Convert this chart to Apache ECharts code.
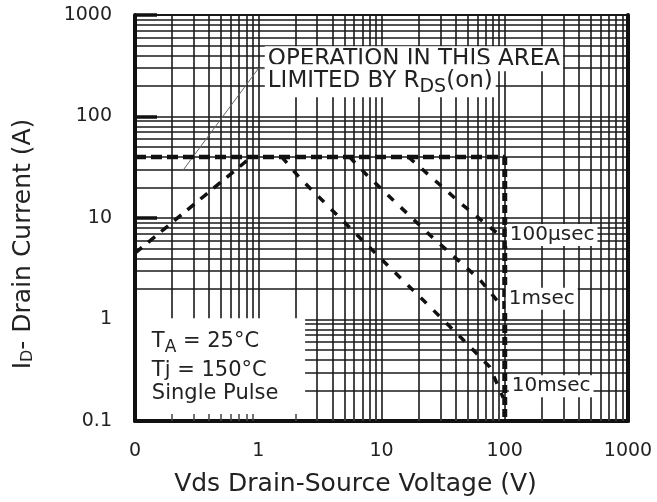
<!DOCTYPE html>
<html>
<head>
<meta charset="utf-8">
<script src="https://cdn.jsdelivr.net/npm/echarts@6/dist/echarts.min.js"></script>
<style>
html, body { margin: 0; padding: 0; background: #fff; }
#main { width: 657px; height: 502px; }
</style>
</head>
<body>
<div id="main"></div>
<script>
// tick labels
var xTickValues = [0.1, 1, 10, 100, 1000];
var xTickLabels = ['0', '1', '10', '100', '1000'];
var yTickValues = [0.1, 1, 10, 100, 1000];
var yTickLabels = ['0.1', '1', '10', '100', '1000'];

// limit lines (Vds, Id)
var rdsV = [0.1, 0.88];
var rdsI = [4.5, 40];
var limitV = [0.1, 100];
var limitI = [40, 40];
var vmaxV = [100, 100];
var vmaxI = [40, 0.1];

// pulse curves
var us100V = [16.5, 45.7, 98];
var us100I = [40, 13.4, 6.3];
var ms1V = [5.5, 7.6, 24.7, 62.8, 97];
var ms1I = [40, 26.5, 6.8, 2.47, 1.3];
var ms10V = [1.55, 2.18, 11.1, 26.1, 44.9, 75.7, 97];
var ms10I = [40, 24.7, 3.46, 1.25, 0.65, 0.34, 0.17];

// leader line of the Rds(on) note
var leaderV = [0.245, 1.0, 1.13];
var leaderI = [29.5, 296, 296];

// log grid: 1..9 in each decade
var decades = [0.1, 1, 10, 100];
var gridVals = [];
for (var d = 0; d < decades.length; d++) {
	for (var k = 1; k < 10; k++) {
		gridVals.push(+(decades[d] * k).toPrecision(3));
	}
}
gridVals.push(1000);
var minorVals = gridVals.filter(function (v) { return xTickValues.indexOf(v) < 0; });

function zip(a, b) {
	var out = [];
	for (var i = 0; i < a.length; i++) out.push([a[i], b[i]]);
	return out;
}
function tickText(vals, labels, value) {
	for (var i = 0; i < vals.length; i++) {
		if (Math.abs(Math.log10(vals[i]) - Math.log10(value)) < 0.01) return labels[i];
	}
	return '';
}

var FONT = 'DejaVu Sans';
var gridLines = [];
gridVals.forEach(function (v) { gridLines.push({ xAxis: v }); });
gridVals.forEach(function (v) { gridLines.push({ yAxis: v }); });

function note(v, i, text, size, bg) {
	return {
		coord: [v, i],
		symbolSize: 0,
		label: {
			show: true,
			position: 'right',
			distance: 0,
			formatter: text,
			color: '#222',
			fontFamily: FONT,
			fontSize: size,
			backgroundColor: bg ? '#fff' : 'transparent',
			padding: bg ? [1, 3, 1, 3] : 0,
			rich: {
				n: { fontFamily: FONT, fontSize: size, color: '#222' },
				s: { fontFamily: FONT, fontSize: size - 4, color: '#222', padding: [12, 0, 0, 0] }
			}
		}
	};
}

var dashed = function (w, pat) {
	return { color: '#111', width: w, type: pat };
};

var myChart = echarts.init(document.getElementById('main'));
var option = {
	animation: false,
	backgroundColor: '#fff',
	grid: {
		left: 135, right: 29, top: 15, bottom: 79,
		show: true, borderColor: '#111', borderWidth: 2
	},
	xAxis: {
		type: 'log', logBase: 10, min: 0.1, max: 1000, z: 10,
		name: 'Vds Drain-Source Voltage (V)',
		nameLocation: 'middle', nameGap: 51,
		nameTextStyle: { fontFamily: FONT, fontSize: 25, color: '#222', padding: [0, 52, 0, 0] },
		axisLine: { lineStyle: { color: '#111', width: 4 } },
		axisTick: { show: true, inside: true, length: 7, customValues: minorVals, lineStyle: { color: '#444', width: 1.5 } },
		axisLabel: {
			margin: 21, fontFamily: FONT, fontSize: 19, color: '#222',
			formatter: function (v) { return tickText(xTickValues, xTickLabels, v); }
		},
		splitLine: { show: false }
	},
	yAxis: [{
		type: 'log', logBase: 10, min: 0.1, max: 1000, z: 10,
		name: '{m|I}{s|D}{m|- Drain Current (A)}',
		nameLocation: 'middle', nameGap: 99, nameRotate: 90,
		nameTextStyle: {
			fontFamily: FONT, fontSize: 25, color: '#222', padding: [0, 52, 0, 0],
			rich: {
				m: { fontFamily: FONT, fontSize: 25, color: '#222' },
				s: { fontFamily: FONT, fontSize: 16, color: '#222', padding: [10, 0, 0, 0] }
			}
		},
		axisLine: { lineStyle: { color: '#111', width: 4 } },
		axisTick: { show: true, inside: true, length: 22, customValues: [10, 100, 1000], lineStyle: { color: '#111', width: 3.5 } },
		axisLabel: {
			margin: 23, fontFamily: FONT, fontSize: 19, color: '#222',
			formatter: function (v) { return tickText(yTickValues, yTickLabels, v); }
		},
		splitLine: { show: false }
	}, {
		type: 'value', position: 'right', z: 10,
		axisLine: { show: true, lineStyle: { color: '#111', width: 4 } },
		axisTick: { show: false }, axisLabel: { show: false }, splitLine: { show: false }
	}],
	series: [
		{
			// grid lines
			type: 'line', data: [], z: 1, silent: true,
			markLine: {
				z: 1, silent: true, symbol: ['none', 'none'], animation: false,
				label: { show: false },
				lineStyle: { type: 'solid', color: '#1a1a1a', width: 1.6 },
				emphasis: { disabled: true },
				data: gridLines
			}
		},
		{
			// white box behind the conditions text
			type: 'line', data: [], z: 2, silent: true,
			markArea: {
				z: 2, silent: true,
				itemStyle: { color: '#fff', opacity: 1 },
				emphasis: { disabled: true },
				data: [[{ xAxis: 0.1, yAxis: 0.1 }, { xAxis: 2.4, yAxis: 1.03 }]]
			}
		},
		{ type: 'line', z: 3, silent: true, showSymbol: false, data: zip(leaderV, leaderI), lineStyle: { color: '#666', width: 1 } },
		{ type: 'line', z: 3, silent: true, showSymbol: false, data: zip(rdsV, rdsI), lineStyle: dashed(3.5, [9, 8]) },
		{ type: 'line', z: 3, silent: true, showSymbol: false, data: zip(limitV, limitI), lineStyle: dashed(4.5, [11, 5]) },
		{ type: 'line', z: 3, silent: true, showSymbol: false, data: zip(vmaxV, vmaxI), lineStyle: dashed(5, [8, 4]) },
		{ type: 'line', z: 3, silent: true, showSymbol: false, data: zip(us100V, us100I), lineStyle: dashed(3.5, [8, 10]) },
		{ type: 'line', z: 3, silent: true, showSymbol: false, data: zip(ms1V, ms1I), lineStyle: dashed(3.5, [8, 10]) },
		{ type: 'line', z: 3, silent: true, showSymbol: false, data: zip(ms10V, ms10I), lineStyle: dashed(3.5, [8, 10]) },
		{
			// text notes
			type: 'line', data: [], z: 5, silent: true,
			markPoint: {
				z: 5, silent: true, symbol: 'rect', symbolSize: 0,
				data: [
					note(1.13, 370, 'OPERATION IN THIS AREA', 23, true),
					note(1.13, 225, '{n|LIMITED BY R}{s|DS}{n|(on)}', 23, true),
					note(104, 6.8, '100µsec', 20, true),
					note(102, 1.6, '1msec', 20, true),
					note(108, 0.22, '10msec', 20, true),
					note(0.137, 0.602, '{n|T}{s|A}{n| = 25°C}', 21, false),
					note(0.137, 0.313, 'Tj = 150°C', 21, false),
					note(0.137, 0.186, 'Single Pulse', 21, false)
				]
			}
		}
	]
};
myChart.setOption(option);
</script>
</body>
</html>
